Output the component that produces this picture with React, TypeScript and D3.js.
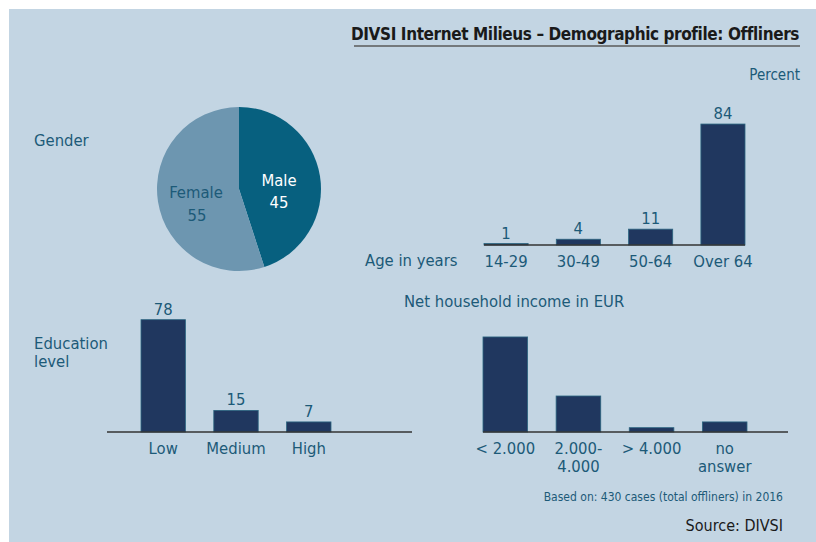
import React from "react";
import * as d3 from "d3";

const genderLabels = ["Male", "Female"];
const genderValues = [45, 55];
const ageCategories = ["14-29", "30-49", "50-64", "Over 64"];
const ageValues = [1, 4, 11, 84];
const eduCategories = ["Low", "Medium", "High"];
const eduValues = [78, 15, 7];
const incomeCategories = [["< 2.000"], ["2.000-", "4.000"], ["> 4.000"], ["no", "answer"]];
const incomeValues = [66, 25, 3, 7];

const FONT = "'Liberation Sans Narrow', 'DejaVu Sans Condensed', sans-serif";
const TEXT = "#1c5a78";
const BAR = "#20375f";
const BAR_STROKE = "#2b6580";
const BG = "#c3d5e3";
const FS = 16.5;

const h = d3.scaleLinear().domain([0, 100]).range([0, 144]);

function Bars({ cats, values, x0, x1, base, showValues, lineX0, lineX1 }: any) {
  const keys = cats.map((_: any, i: number) => String(i));
  const x = d3.scaleBand().domain(keys).range([x0, x1]).paddingInner(0.39).paddingOuter(0);
  return (
    <g>
      {values.map((v: number, i: number) => (
        <rect key={i} x={x(String(i))} y={base - h(v)} width={x.bandwidth()} height={h(v)}
          fill={BAR} stroke={BAR_STROKE} strokeWidth={0.8} />
      ))}
      <line x1={lineX0} x2={lineX1} y1={base} y2={base} stroke="#333" strokeWidth={1.5} />
      {showValues && values.map((v: number, i: number) => (
        <text key={"v" + i} x={(x(String(i)) as number) + x.bandwidth() / 2} y={base - h(v) - 5}
          textAnchor="middle" fontSize={FS} fill={TEXT}>{v}</text>
      ))}
      {cats.map((c: any, i: number) => {
        const lines = Array.isArray(c) ? c : [c];
        return lines.map((l: string, j: number) => (
          <text key={"c" + i + "_" + j} x={(x(String(i)) as number) + x.bandwidth() / 2} y={base + 22 + j * 18}
            textAnchor="middle" fontSize={FS} fill={TEXT}>{l}</text>
        ));
      })}
    </g>
  );
}

export default function App() {
  const pie = d3.pie<number>().sort(null).value((d) => d)(genderValues);
  const arc = d3.arc<any>().innerRadius(0).outerRadius(82);
  const cx = 239, cy = 189;
  const pieColors = ["#07607f", "#6d96b0"];
  return (
    <svg width={816} height={542} style={{ position: "absolute", left: 0, top: 0 }} fontFamily={FONT}>
      <rect x={9} y={9} width={807} height={533} fill={BG} />
      <text x={799} y={40} textAnchor="end" fontSize={17} fontWeight="bold" fill="#1a1a1a" letterSpacing={-0.4}>
        DIVSI Internet Milieus – Demographic profile: Offliners
      </text>
      <line x1={354} x2={800} y1={46} y2={46} stroke="#5a5a5a" strokeWidth={1.5} />
      <text x={800} y={80} textAnchor="end" fontSize={15} fill={TEXT}>Percent</text>

      <text x={34} y={146} fontSize={FS} fill={TEXT}>Gender</text>
      <g transform={`translate(${cx},${cy})`}>
        {pie.map((p, i) => (
          <path key={i} d={arc(p) as string} fill={pieColors[i]} />
        ))}
      </g>
      <text x={279} y={186} textAnchor="middle" fontSize={FS} fill="#fff">{genderLabels[0]}</text>
      <text x={279} y={208} textAnchor="middle" fontSize={FS} fill="#fff">{genderValues[0]}</text>
      <text x={196} y={198} textAnchor="middle" fontSize={FS} fill={TEXT}>{genderLabels[1]}</text>
      <text x={197} y={221} textAnchor="middle" fontSize={FS} fill={TEXT}>{genderValues[1]}</text>

      <text x={365} y={266} fontSize={FS} fill={TEXT}>Age in years</text>
      <Bars cats={ageCategories} values={ageValues} x0={484} x1={745} base={245} showValues lineX0={484} lineX1={745} />

      <text x={34} y={349} fontSize={FS} fill={TEXT}>Education</text>
      <text x={34} y={367} fontSize={FS} fill={TEXT}>level</text>
      <Bars cats={eduCategories} values={eduValues} x0={141} x1={331} base={432} showValues lineX0={107} lineX1={412} />

      <text x={404} y={307} fontSize={FS} fill={TEXT}>Net household income in EUR</text>
      <Bars cats={incomeCategories} values={incomeValues} x0={483} x1={747} base={432} showValues={false} lineX0={483} lineX1={788} />

      <text x={783} y={501} textAnchor="end" fontSize={12} fill={TEXT}>Based on: 430 cases (total offliners) in 2016</text>
      <text x={783} y={531} textAnchor="end" fontSize={16} fill="#1a1a1a">Source: DIVSI</text>
    </svg>
  );
}
